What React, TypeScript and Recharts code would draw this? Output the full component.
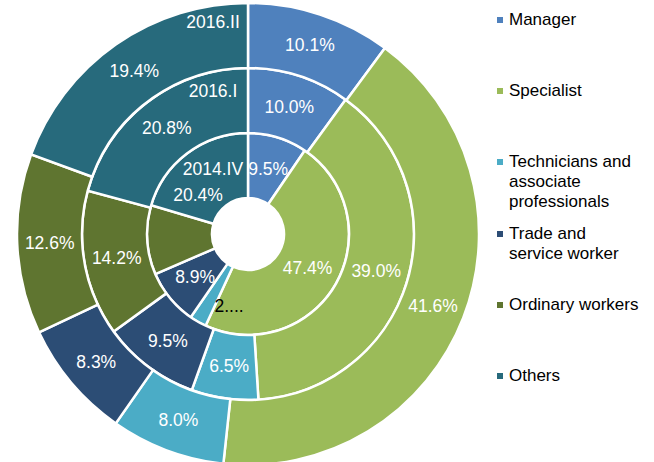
import React from 'react';
import { PieChart, Pie, Cell, Legend } from 'recharts';

const categories = [
  'Manager',
  'Specialist',
  'Technicians and associate professionals',
  'Trade and service worker',
  'Ordinary workers',
  'Others',
];
const legendLines = [
  ['Manager'],
  ['Specialist'],
  ['Technicians and', 'associate', 'professionals'],
  ['Trade and', 'service worker'],
  ['Ordinary workers'],
  ['Others'],
];
const colors = ['#4F81BD', '#9BBB59', '#4BACC6', '#2C4D75', '#5F7530', '#276A7C'];
const ringNames = ['2014.IV', '2016.I', '2016.II'];
const values2014IV = [9.5, 47.4, 2.7, 8.9, 11.1, 20.4];
const values2016I = [10.0, 39.0, 6.5, 9.5, 14.2, 20.8];
const values2016II = [10.1, 41.6, 8.0, 8.3, 12.6, 19.4];

const seriesValues = [values2014IV, values2016I, values2016II];
const ringData = seriesValues.map((vals) =>
  vals.map((v, i) => ({ name: categories[i], value: v }))
);

const W = 654;
const H = 462;
const CX = 248;
const CY = 234;
const radii = [
  [36, 101],
  [101, 166],
  [166, 231],
];
const ringNameOffset = [36, 23, 19];
const RAD = Math.PI / 180;
const FONT = '"Liberation Sans", Arial, sans-serif';

function makeLabel(ring: number) {
  return (p: any) => {
    const { cx, cy, midAngle, innerRadius, outerRadius, index, value } = p;
    const r = (innerRadius + outerRadius) / 2;
    let x = cx + r * Math.cos(-midAngle * RAD);
    let y = cy + r * Math.sin(-midAngle * RAD);
    let text = `${Number(value).toFixed(1)}%`;
    let fill = '#ffffff';
    if (ring === 0 && index === 4) return null;
    if (ring === 0 && index === 2) {
      text = '2....';
      fill = '#000000';
      x += 15;
      y += 12;
    }
    if (ring === 0 && index === 5) {
      x -= 9;
      y += 16;
    }
    const valueText = (
      <text
        x={x}
        y={y}
        fill={fill}
        fontSize={17.5}
        fontFamily={FONT}
        textAnchor="middle"
        dominantBaseline="central"
      >
        {text}
      </text>
    );
    if (index === 5) {
      return (
        <g>
          {valueText}
          <text
            x={cx - 35}
            y={cy - outerRadius + ringNameOffset[ring]}
            fill="#ffffff"
            fontSize={17.5}
            fontFamily={FONT}
            textAnchor="middle"
            dominantBaseline="central"
          >
            {ringNames[ring]}
          </text>
        </g>
      );
    }
    return valueText;
  };
}

const renderLegend = () => (
  <div style={{ position: 'relative', width: 160, height: 440, fontFamily: FONT }}>
    {legendLines.map((lines, i) => (
      <div
        key={categories[i]}
        style={{
          position: 'absolute',
          left: 0,
          top: 10 + i * 71.2,
          fontSize: 17,
          lineHeight: '20px',
          color: '#000',
        }}
      >
        <span
          style={{
            position: 'absolute',
            left: 0,
            top: 7,
            width: 6,
            height: 6,
            background: colors[i],
          }}
        />
        <div style={{ marginLeft: 12, whiteSpace: 'nowrap' }}>
          {lines.map((l) => (
            <div key={l}>{l}</div>
          ))}
        </div>
      </div>
    ))}
  </div>
);

export default function App() {
  return (
    <div style={{ position: 'absolute', left: 0, top: 0, width: W, height: H, background: '#fff', overflow: 'hidden' }}>
      <PieChart width={W} height={H} margin={{ top: 0, right: 0, bottom: 0, left: 0 }}>
        {ringData.map((data, ring) => (
          <Pie
            key={ringNames[ring]}
            data={data}
            dataKey="value"
            nameKey="name"
            cx={CX}
            cy={CY}
            innerRadius={radii[ring][0]}
            outerRadius={radii[ring][1]}
            startAngle={90}
            endAngle={-270}
            stroke="#ffffff"
            strokeWidth={2.5}
            isAnimationActive={false}
            labelLine={false}
            label={makeLabel(ring)}
          >
            {data.map((d, i) => (
              <Cell key={d.name} fill={colors[i]} />
            ))}
          </Pie>
        ))}
        <Legend
          content={renderLegend}
          wrapperStyle={{ position: 'absolute', left: 497, top: 0, width: 160 }}
        />
      </PieChart>
    </div>
  );
}
